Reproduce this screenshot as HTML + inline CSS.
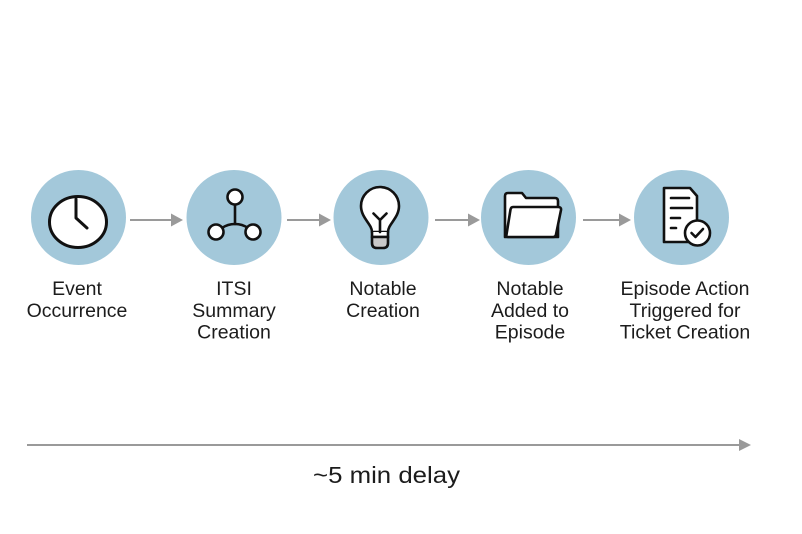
<!DOCTYPE html>
<html>
<head>
<meta charset="utf-8">
<style>
  html,body{margin:0;padding:0;background:#fff;}
  svg{display:block;}
  text{font-family:"Liberation Sans", Arial, sans-serif;fill:#1c1c1c;}
</style>
</head>
<body>
<svg width="802" height="534" viewBox="0 0 802 534" xmlns="http://www.w3.org/2000/svg">
  <rect width="802" height="534" fill="#ffffff"/>

  <!-- circles -->
  <g fill="#A3C8DA">
    <circle cx="78.5" cy="217.5" r="47.5"/>
    <circle cx="234" cy="217.5" r="47.5"/>
    <circle cx="381" cy="217.5" r="47.5"/>
    <circle cx="528.5" cy="217.5" r="47.5"/>
    <circle cx="681.5" cy="217.5" r="47.5"/>
  </g>

  <!-- connectors -->
  <g stroke="#9a9a9a" stroke-width="2" fill="none">
    <line x1="130" y1="220" x2="173" y2="220"/>
    <line x1="287" y1="220" x2="321" y2="220"/>
    <line x1="435" y1="220" x2="470" y2="220"/>
    <line x1="583" y1="220" x2="621" y2="220"/>
    <line x1="27" y1="445" x2="741" y2="445"/>
  </g>
  <g fill="#9a9a9a">
    <polygon points="171,213.5 183,220 171,226.5"/>
    <polygon points="319,213.5 331,220 319,226.5"/>
    <polygon points="468,213.5 480,220 468,226.5"/>
    <polygon points="619,213.5 631,220 619,226.5"/>
    <polygon points="739,439 751,445 739,451"/>
  </g>

  <!-- clock icon -->
  <g stroke="#111" stroke-width="3" fill="#fff" stroke-linecap="round" stroke-linejoin="round">
    <ellipse cx="78" cy="222" rx="28.5" ry="25.5"/>
    <polyline points="76,199 76,218 87,228" fill="none"/>
  </g>

  <!-- network icon -->
  <g stroke="#111" stroke-width="2.6" fill="#fff" stroke-linecap="round">
    <line x1="235" y1="205" x2="235" y2="224"/>
    <path d="M222,228 C227,224.5 231,224 235,224 C239,224 243,224.5 248,228" fill="none"/>
    <circle cx="235" cy="197" r="7.5"/>
    <circle cx="216" cy="232" r="7.5"/>
    <circle cx="253" cy="232" r="7.5"/>
  </g>

  <!-- bulb icon -->
  <g stroke="#111" stroke-width="2.6" stroke-linejoin="round" stroke-linecap="round">
    <path d="M372,232 C372,224 361,218 361,206 A19,19 0 1 1 399,206 C399,218 388,224 388,232 Z" fill="#fff"/>
    <path d="M372,232 L372,237 L388,237 L388,232" fill="#fff"/>
    <path d="M372,237 L388,237 L388,243 Q388,248 383,248 L377,248 Q372,248 372,243 Z" fill="#c8c8c8"/>
    <path d="M380,232 L380,220 M380,220 L373.5,213.5 M380,220 L386.5,213.5" fill="none"/>
  </g>

  <!-- folder icon -->
  <g stroke="#111" stroke-width="2.6" stroke-linejoin="round" fill="#fff">
    <path d="M505,237 L505,196 Q505,193 508,193 L522,193 L526,198 L555,198 Q558,198 558,201 L558,237 Z"/>
    <path d="M513,207 L558,207 Q561.5,207 561,210 L556,234.5 Q555.5,237 553,237 L508,237 Q506,237 506.5,234.5 L510.5,209.5 Q511,207 513,207 Z"/>
  </g>

  <!-- document icon -->
  <g stroke="#111" stroke-width="2.6" stroke-linejoin="round" stroke-linecap="round">
    <path d="M664,188 L690,188 L697,196 L697,242 L664,242 Z" fill="#fff"/>
    <line x1="671" y1="198" x2="689" y2="198"/>
    <line x1="671" y1="208" x2="692" y2="208"/>
    <line x1="671" y1="218" x2="680" y2="218"/>
    <line x1="671" y1="228" x2="676" y2="228"/>
    <circle cx="697.5" cy="233" r="12.5" fill="#fff"/>
    <polyline points="691.5,233 695.5,237 703,229" fill="none"/>
  </g>

  <!-- labels -->
  <g font-size="19.5" text-anchor="middle">
    <text x="77" y="295">Event</text>
    <text x="77" y="317">Occurrence</text>

    <text x="234" y="295">ITSI</text>
    <text x="234" y="317">Summary</text>
    <text x="234" y="338.5">Creation</text>

    <text x="383" y="295">Notable</text>
    <text x="383" y="317">Creation</text>

    <text x="530" y="295">Notable</text>
    <text x="530" y="317">Added to</text>
    <text x="530" y="338.5">Episode</text>

    <text x="685" y="295">Episode Action</text>
    <text x="685" y="317">Triggered for</text>
    <text x="685" y="338.5">Ticket Creation</text>
  </g>

  <text x="313" y="483" font-size="23" textLength="147" lengthAdjust="spacingAndGlyphs">~5 min delay</text>
</svg>
</body>
</html>
